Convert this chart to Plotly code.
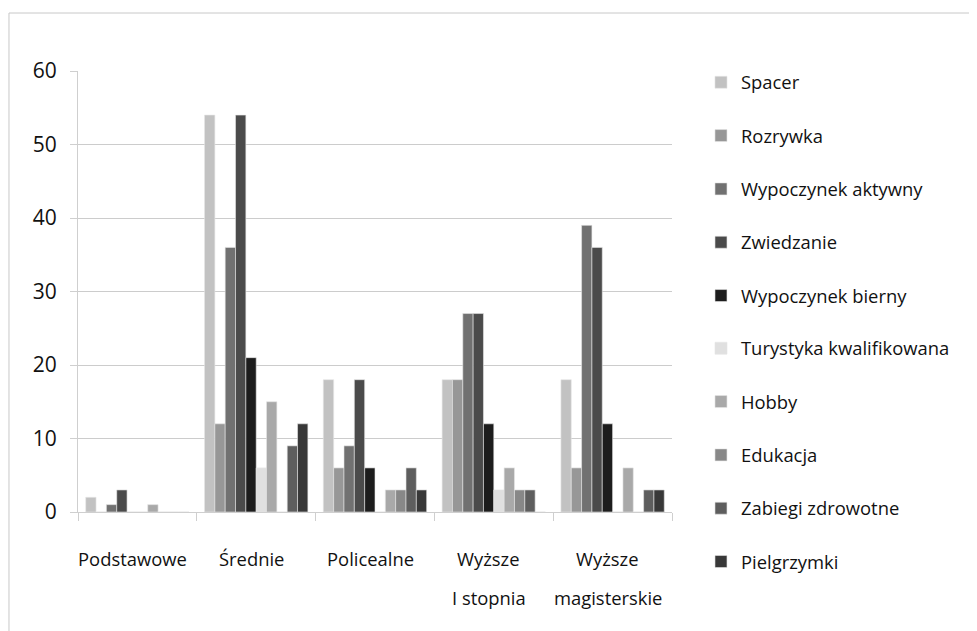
import plotly.graph_objects as go

categories = ["Podstawowe", "Średnie", "Policealne", "Wyższe I stopnia", "Wyższe magisterskie"]
label_line1 = ["Podstawowe", "Średnie", "Policealne", "Wyższe", "Wyższe"]
label_line2 = ["", "", "", "I stopnia", "magisterskie"]

series_names = ["Spacer", "Rozrywka", "Wypoczynek aktywny", "Zwiedzanie", "Wypoczynek bierny",
                "Turystyka kwalifikowana", "Hobby", "Edukacja", "Zabiegi zdrowotne", "Pielgrzymki"]

spacer = [2, 54, 18, 18, 18]
rozrywka = [0, 12, 6, 18, 6]
wypoczynek_aktywny = [1, 36, 9, 27, 39]
zwiedzanie = [3, 54, 18, 27, 36]
wypoczynek_bierny = [0, 21, 6, 12, 12]
turystyka_kwalifikowana = [0, 6, 0, 3, 0]
hobby = [1, 15, 3, 6, 6]
edukacja = [0, 0, 3, 3, 0]
zabiegi_zdrowotne = [0, 9, 6, 3, 3]
pielgrzymki = [0, 12, 3, 0, 3]

series_values = [spacer, rozrywka, wypoczynek_aktywny, zwiedzanie, wypoczynek_bierny,
                 turystyka_kwalifikowana, hobby, edukacja, zabiegi_zdrowotne, pielgrzymki]

colors = ["#c2c2c2", "#979797", "#717171", "#4b4b4b", "#1d1d1d",
          "#e0e0e0", "#a9a9a9", "#888888", "#5e5e5e", "#383838"]

y_ticks = [0, 10, 20, 30, 40, 50, 60]

TEXT = "#111111"
FONT = "Open Sans"

fig = go.Figure()
for i, (name, vals, col) in enumerate(zip(series_names, series_values, colors)):
    fig.add_trace(go.Bar(
        name=name, x=categories, y=vals, legendgroup=name,
        legend="legend" if i < 5 else "legend2",
        marker=dict(color=col, line=dict(color="#e6e6e6", width=0.6)),
    ))

annotations = []
for cat, l1, l2 in zip(categories, label_line1, label_line2):
    annotations.append(dict(x=cat, xref="x", y=0, yref="paper", text=l1, showarrow=False,
                            yanchor="middle", yshift=-46, xshift=-5,
                            font=dict(size=18.4, color=TEXT, family=FONT)))
    if l2:
        annotations.append(dict(x=cat, xref="x", y=0, yref="paper", text=l2, showarrow=False,
                                yanchor="middle", yshift=-85, xshift=-5,
                                font=dict(size=18.4, color=TEXT, family=FONT)))

legend_style = dict(xanchor="left", yanchor="top",
                    font=dict(size=18.4, family=FONT, color=TEXT),
                    tracegroupgap=26.4, bgcolor="rgba(0,0,0,0)", borderwidth=0)

fig.update_layout(
    width=969, height=623,
    margin=dict(l=70, r=305, t=63, b=119),
    paper_bgcolor="white", plot_bgcolor="white",
    font=dict(family=FONT, size=18, color=TEXT),
    barmode="group", bargap=0.13, bargroupgap=0,
    showlegend=True,
    legend=dict(x=1.0488, y=1.0163, **legend_style),
    legend2=dict(x=1.0488, y=0.4132, **legend_style),
    annotations=annotations,
    shapes=[dict(type="rect", xref="paper", yref="paper",
                 x0=-0.1162, x1=1.7, y0=-0.5, y1=1.1315,
                 line=dict(color="#c8c8c8", width=1), fillcolor="rgba(0,0,0,0)", layer="below")],
)

fig.update_xaxes(
    type="category", range=[-0.5, 4.5], showticklabels=False,
    showline=True, linecolor="#cfcfcf", linewidth=1,
    ticks="outside", tickson="boundaries", ticklen=8, tickcolor="#cfcfcf",
    showgrid=False, zeroline=False,
)
fig.update_yaxes(
    range=[0, 60], tickvals=y_ticks, ticktext=[str(v) for v in y_ticks],
    showline=True, linecolor="#cfcfcf", linewidth=1,
    ticks="outside", ticklen=7, tickcolor="#cfcfcf",
    showgrid=True, gridcolor="#cccccc", gridwidth=1, zeroline=False,
    tickfont=dict(size=21, family=FONT, color=TEXT),
    ticklabelstandoff=9,
)

fig.write_html("out.html")
